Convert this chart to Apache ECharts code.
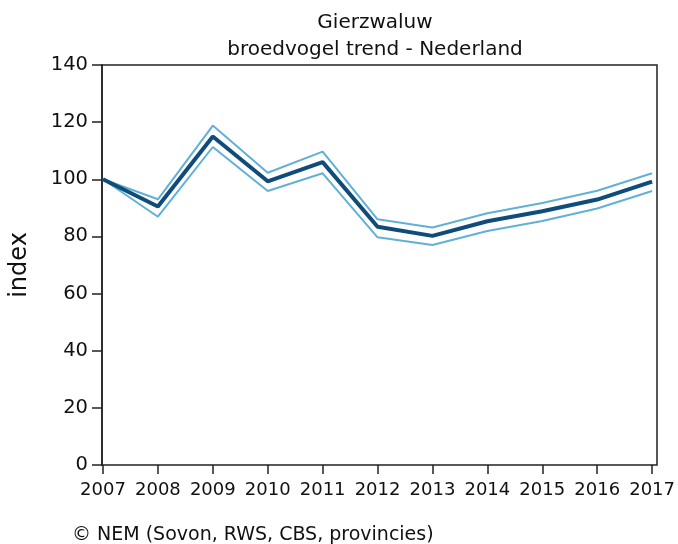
<!DOCTYPE html>
<html lang="nl">
<head>
    <meta charset="UTF-8">
    <title>Gierzwaluw - broedvogel trend</title>
    <style>
        html, body { margin: 0; padding: 0; background: #fff; }
    </style>
</head>
<body>
    <div id="chart" style="width:678px; height:544px"></div>

    <script src="https://cdn.jsdelivr.net/npm/echarts@6/dist/echarts.min.js"></script>
    <script>
        // jaren en indexwaarden (2007 = 100)
        const years = ['2007', '2008', '2009', '2010', '2011', '2012', '2013', '2014', '2015', '2016', '2017'];
        const trend = [100, 90.5, 115, 99.3, 106, 83.4, 80.2, 85.3, 88.8, 92.9, 99.2];
        const upper = [100, 93, 118.8, 102.3, 109.7, 86, 83.1, 88.1, 91.7, 96, 102.1];
        const lower = [100, 86.9, 111.3, 95.9, 102.1, 79.7, 77, 81.9, 85.4, 89.8, 95.9];
        const yTicks = [0, 20, 40, 60, 80, 100, 120, 140];

        const font = 'DejaVu Sans';
        const chart = echarts.init(document.getElementById('chart'));

        chart.setOption({
            animation: false,
            title: [{
                text: 'Gierzwaluw\nbroedvogel trend - Nederland',
                left: 370,
                top: 4,
                textAlign: 'center',
                textStyle: { fontFamily: font, fontSize: 20, fontWeight: 'normal', color: '#111', lineHeight: 27 }
            }, {
                text: '© NEM (Sovon, RWS, CBS, provincies)',
                left: 67,
                top: 521,
                textStyle: { fontFamily: font, fontSize: 19, fontWeight: 'normal', color: '#111' }
            }],
            // grid 0 = kader met y-as, grid 1 = datagebied
            grid: [
                { left: 100, right: 21, top: 65, bottom: 79, show: true, borderColor: '#222', borderWidth: 1.5, backgroundColor: '#fff' },
                { left: 103, right: 24, top: 65, bottom: 79 }
            ],
            xAxis: [{
                gridIndex: 0,
                type: 'value',
                show: false
            }, {
                gridIndex: 1,
                type: 'category',
                data: years,
                boundaryGap: false,
                axisLine: { show: false },
                axisTick: { show: true, interval: 0, length: 9, inside: false, lineStyle: { color: '#222', width: 1.5 } },
                axisLabel: { interval: 0, hideOverlap: false, fontFamily: font, fontSize: 18, color: '#111', margin: 16 },
                splitLine: { show: false }
            }],
            yAxis: [{
                gridIndex: 0,
                type: 'value',
                min: yTicks[0],
                max: yTicks[yTicks.length - 1],
                interval: 20,
                name: 'index',
                nameLocation: 'middle',
                nameGap: 70,
                nameTextStyle: { fontFamily: font, fontSize: 24, color: '#111' },
                axisLine: { show: true, lineStyle: { color: '#222', width: 1.5 } },
                axisTick: { show: true, length: 10, lineStyle: { color: '#222', width: 1.5 } },
                axisLabel: { fontFamily: font, fontSize: 19.5, color: '#111', margin: 14 },
                splitLine: { show: false }
            }, {
                gridIndex: 1,
                type: 'value',
                min: 0,
                max: 140,
                show: false
            }],
            series: [{
                name: 'bovengrens',
                type: 'line',
                xAxisIndex: 1,
                yAxisIndex: 1,
                data: upper,
                symbol: 'none',
                lineStyle: { color: '#62b0d6', width: 2 }
            }, {
                name: 'ondergrens',
                type: 'line',
                xAxisIndex: 1,
                yAxisIndex: 1,
                data: lower,
                symbol: 'none',
                lineStyle: { color: '#62b0d6', width: 2 }
            }, {
                name: 'trend',
                type: 'line',
                xAxisIndex: 1,
                yAxisIndex: 1,
                data: trend,
                symbol: 'none',
                lineStyle: { color: '#0f4c7a', width: 4 }
            }]
        });
    </script>
</body>
</html>
